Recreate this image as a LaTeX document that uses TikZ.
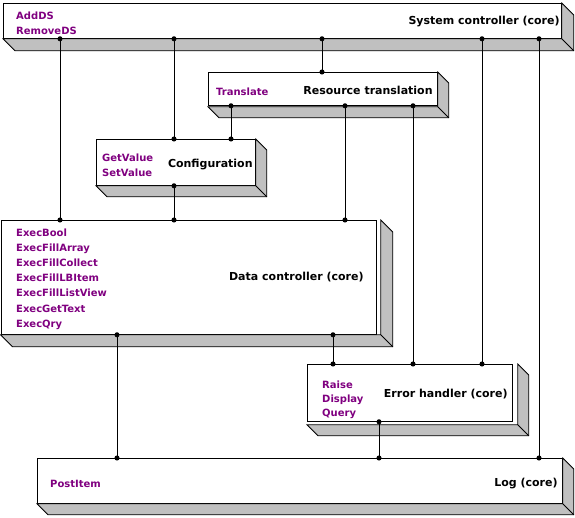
\documentclass[tikz,border=0pt]{standalone}
\usepackage{fontspec}
\setmainfont{DejaVu Sans}
\usetikzlibrary{positioning,calc,arrows.meta}
\definecolor{methodpurple}{HTML}{800080}
\definecolor{slabgray}{HTML}{C0C0C0}
\tikzset{
	module/.style={draw, fill=white, anchor=north west, inner sep=0pt, line width=0.8pt},
	title/.style={font=\bfseries\fontsize{11}{13}\selectfont, inner sep=0pt},
	methods/.style={font=\bfseries\fontsize{10}{15.2}\selectfont, text=methodpurple, align=left, inner sep=0pt},
	wire/.style={line width=0.8pt, {Circle[length=5pt]}-{Circle[length=5pt]}, shorten <=-2.5pt, shorten >=-2.5pt},
}
% grey 3d depth of a module: node, x gap, y gap, depth
\newcommand{\slab}[4]{%
	\draw[fill=slabgray, line width=0.8pt] ([xshift=#2pt]#1.north east) -- ++(#4,#4)
		-- ($(#1.south east)+(#2+#4,#3+#4)$) -- ($(#1.south west)+(#4,#3+#4)$)
		-- ($(#1.south west)+(0,#3)$) -- ($(#1.south east)+(#2,#3)$) -- cycle;
	\draw[line width=0.8pt] ($(#1.south east)+(#2,#3)$) -- ++(#4,#4);
}

\begin{document}
\begin{tikzpicture}[x=1pt, y=-1pt]
	\useasboundingbox (0,0) rectangle (575,518);

	% modules
	\node[module, minimum width=558pt, minimum height=35pt] (sys) at (3,3) {};
	\node[module, minimum width=229pt, minimum height=33pt] (res) at (208,72) {};
	\node[module, minimum width=159pt, minimum height=46pt] (cfg) at (96,139) {};
	\node[module, minimum width=375.5pt, minimum height=114pt] (data) at (0.5,220) {};
	\node[module, minimum width=205pt, minimum height=57pt] (err) at (307,364) {};
	\node[module, minimum width=525pt, minimum height=45pt] (log) at (37,458) {};

	\slab{sys}{0}{0}{12}
	\slab{res}{0}{1}{11}
	\slab{cfg}{0}{0}{11}
	\slab{data}{4}{0}{12}
	\slab{err}{5}{3}{11}
	\slab{log}{0}{0}{11}

	% names and methods
	\node[title, anchor=east] (sysT) at ($(sys.east)+(-2,0.5)$) {System controller (core)};
	\node[methods, anchor=west] (sysM) at ($(sys.west)+(13,2)$) {AddDS\\RemoveDS};
	\node[title, anchor=east] (resT) at ($(res.east)+(-5,1.5)$) {Resource translation};
	\node[methods, anchor=west] (resM) at ($(res.west)+(8,2.5)$) {Translate};
	\node[title, anchor=east] (cfgT) at ($(cfg.east)+(-3,2)$) {Configuration};
	\node[methods, anchor=west] (cfgM) at ($(cfg.west)+(6,2.5)$) {GetValue\\SetValue};
	\node[title, anchor=east] (dataT) at ($(data.east)+(-13,0)$) {Data controller (core)};
	\node[methods, anchor=west] (dataM) at ($(data.west)+(15.5,1.5)$)
		{ExecBool\\ExecFillArray\\ExecFillCollect\\ExecFillLBItem\\ExecFillListView\\ExecGetText\\ExecQry};
	\node[title, anchor=east] (errT) at ($(err.east)+(-5,1.5)$) {Error handler (core)};
	\node[methods, anchor=west, font=\bfseries\fontsize{10}{14}\selectfont] (errM) at ($(err.west)+(15,6.5)$)
		{Raise\\Display\\Query};
	\node[title, anchor=east] (logT) at ($(log.east)+(-5,2.5)$) {Log (core)};
	\node[methods, anchor=west] (logM) at ($(log.west)+(13,3.5)$) {PostItem};

	% connectors
	\foreach \x in {60,117,174,231,322,333,345,379,413,482,539}
		\coordinate (x\x) at (\x,0);
	\foreach \src/\dst/\x in {sys/data/60, sys/cfg/174, sys/res/322, sys/err/482, sys/log/539,
		res/cfg/231, res/data/345, res/err/413, cfg/data/174,
		data/log/117, data/err/333, err/log/379}
		\draw[wire] (\src.south -| x\x) -- (\dst.north -| x\x);
\end{tikzpicture}
\end{document}
